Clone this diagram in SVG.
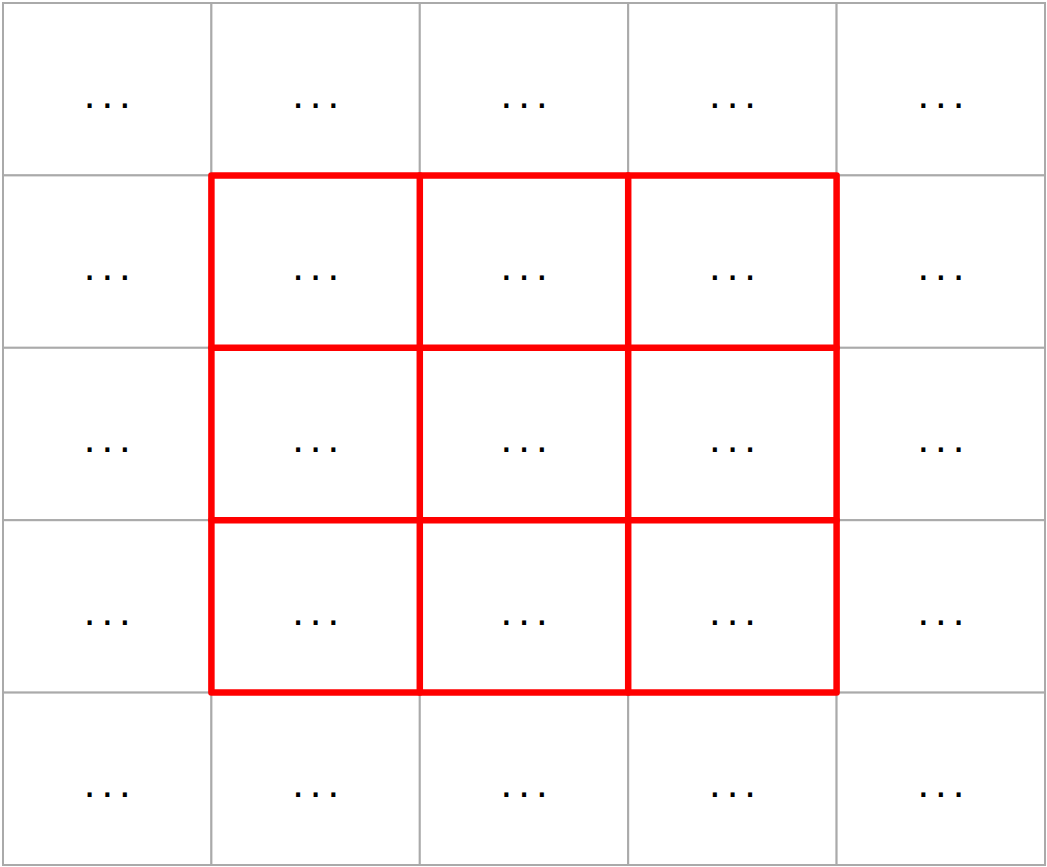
<svg xmlns="http://www.w3.org/2000/svg" width="1047" height="867" viewBox="0 0 1047 867">
<style>
.cell{fill:#fff;stroke:#aaa;stroke-width:2}
.t{font-family:"Liberation Sans",Arial,sans-serif;font-size:42px;letter-spacing:6px;text-anchor:middle;fill:#000}
.red{fill:none;stroke:#ff0000;stroke-width:6.5;stroke-linejoin:round;stroke-linecap:round}
</style>
<rect width="1047" height="867" fill="#fff"/>
<g id="grid">
<g id="c00"><rect class="cell" x="3" y="3" width="208.4" height="172.4"/><text class="t" x="110.3" y="107.5">...</text></g>
<g id="c01"><rect class="cell" x="211.4" y="3" width="208.4" height="172.4"/><text class="t" x="318.7" y="107.5">...</text></g>
<g id="c02"><rect class="cell" x="419.8" y="3" width="208.4" height="172.4"/><text class="t" x="527.1" y="107.5">...</text></g>
<g id="c03"><rect class="cell" x="628.2" y="3" width="208.4" height="172.4"/><text class="t" x="735.5" y="107.5">...</text></g>
<g id="c04"><rect class="cell" x="836.6" y="3" width="208.4" height="172.4"/><text class="t" x="943.9" y="107.5">...</text></g>
<g id="c10"><rect class="cell" x="3" y="175.4" width="208.4" height="172.4"/><text class="t" x="110.3" y="279.9">...</text></g>
<g id="c11"><rect class="cell" x="211.4" y="175.4" width="208.4" height="172.4"/><text class="t" x="318.7" y="279.9">...</text></g>
<g id="c12"><rect class="cell" x="419.8" y="175.4" width="208.4" height="172.4"/><text class="t" x="527.1" y="279.9">...</text></g>
<g id="c13"><rect class="cell" x="628.2" y="175.4" width="208.4" height="172.4"/><text class="t" x="735.5" y="279.9">...</text></g>
<g id="c14"><rect class="cell" x="836.6" y="175.4" width="208.4" height="172.4"/><text class="t" x="943.9" y="279.9">...</text></g>
<g id="c20"><rect class="cell" x="3" y="347.8" width="208.4" height="172.4"/><text class="t" x="110.3" y="452.3">...</text></g>
<g id="c21"><rect class="cell" x="211.4" y="347.8" width="208.4" height="172.4"/><text class="t" x="318.7" y="452.3">...</text></g>
<g id="c22"><rect class="cell" x="419.8" y="347.8" width="208.4" height="172.4"/><text class="t" x="527.1" y="452.3">...</text></g>
<g id="c23"><rect class="cell" x="628.2" y="347.8" width="208.4" height="172.4"/><text class="t" x="735.5" y="452.3">...</text></g>
<g id="c24"><rect class="cell" x="836.6" y="347.8" width="208.4" height="172.4"/><text class="t" x="943.9" y="452.3">...</text></g>
<g id="c30"><rect class="cell" x="3" y="520.2" width="208.4" height="172.4"/><text class="t" x="110.3" y="624.7">...</text></g>
<g id="c31"><rect class="cell" x="211.4" y="520.2" width="208.4" height="172.4"/><text class="t" x="318.7" y="624.7">...</text></g>
<g id="c32"><rect class="cell" x="419.8" y="520.2" width="208.4" height="172.4"/><text class="t" x="527.1" y="624.7">...</text></g>
<g id="c33"><rect class="cell" x="628.2" y="520.2" width="208.4" height="172.4"/><text class="t" x="735.5" y="624.7">...</text></g>
<g id="c34"><rect class="cell" x="836.6" y="520.2" width="208.4" height="172.4"/><text class="t" x="943.9" y="624.7">...</text></g>
<g id="c40"><rect class="cell" x="3" y="692.6" width="208.4" height="172.4"/><text class="t" x="110.3" y="797.1">...</text></g>
<g id="c41"><rect class="cell" x="211.4" y="692.6" width="208.4" height="172.4"/><text class="t" x="318.7" y="797.1">...</text></g>
<g id="c42"><rect class="cell" x="419.8" y="692.6" width="208.4" height="172.4"/><text class="t" x="527.1" y="797.1">...</text></g>
<g id="c43"><rect class="cell" x="628.2" y="692.6" width="208.4" height="172.4"/><text class="t" x="735.5" y="797.1">...</text></g>
<g id="c44"><rect class="cell" x="836.6" y="692.6" width="208.4" height="172.4"/><text class="t" x="943.9" y="797.1">...</text></g>
</g>
<g id="highlight" class="red">
<rect x="211.4" y="175.4" width="625.2" height="517.2"/>
<line x1="419.8" y1="175.4" x2="419.8" y2="692.6"/>
<line x1="628.2" y1="175.4" x2="628.2" y2="692.6"/>
<line x1="211.4" y1="347.8" x2="836.6" y2="347.8"/>
<line x1="211.4" y1="520.2" x2="836.6" y2="520.2"/>
</g>
</svg>
